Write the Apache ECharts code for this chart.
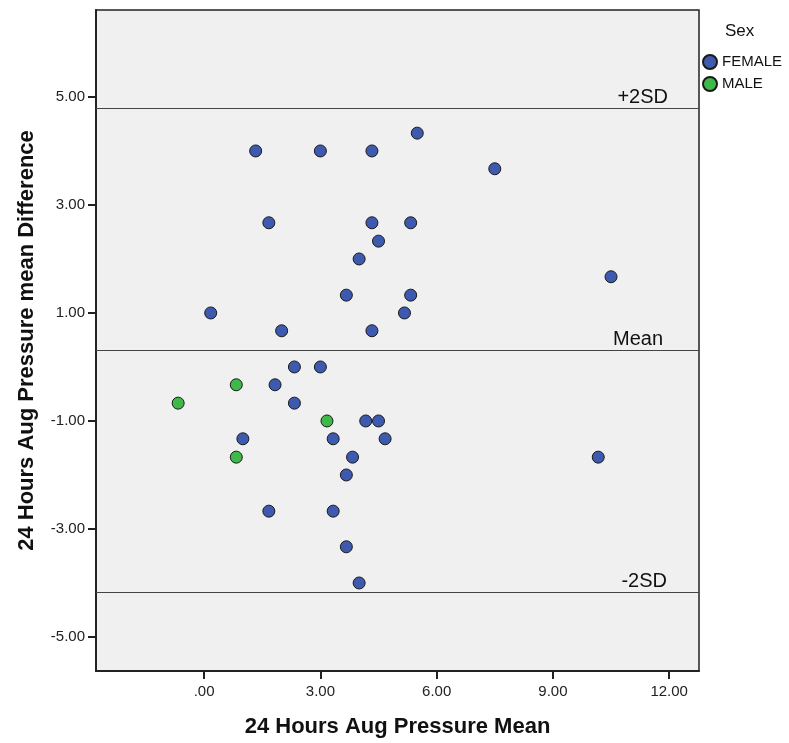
<!DOCTYPE html>
<html>
<head>
<meta charset="utf-8">
<script src="https://cdn.jsdelivr.net/npm/echarts@6/dist/echarts.min.js"></script>
<style>
  html, body { margin: 0; padding: 0; background: #fff; }
  #chart { width: 789px; height: 743px; }
</style>
</head>
<body>
<div id="chart"></div>
<script>
// average of the two readings (x) and their difference (y), per sex
const femaleMean = [1.33, 3.00, 4.33, 5.50, 7.50, 1.67, 4.33, 5.33, 4.50, 4.00, 10.50, 3.67, 5.33, 0.17, 5.17, 2.00, 4.33,
    2.33, 3.00, 1.83, 2.33, 4.17, 4.50, 1.00, 3.33, 4.67, 3.83, 10.17, 3.67, 1.67, 3.33, 3.67, 4.00]
const femaleDiff = [4.00, 4.00, 4.00, 4.33, 3.67, 2.67, 2.67, 2.67, 2.33, 2.00, 1.67, 1.33, 1.33, 1.00, 1.00, 0.67, 0.67,
    0.00, 0.00, -0.33, -0.67, -1.00, -1.00, -1.33, -1.33, -1.33, -1.67, -1.67, -2.00, -2.67, -2.67, -3.33, -4.00]
const maleMean = [0.83, -0.67, 3.17, 0.83]
const maleDiff = [-0.33, -0.67, -1.00, -1.67]

const refNames = ['+2SD', 'Mean', '-2SD']
const refValues = [4.79, 0.31, -4.17]

const xTicks = [0, 3, 6, 9, 12]
const xTickLabels = ['.00', '3.00', '6.00', '9.00', '12.00']
const yTicks = [-5, -3, -1, 1, 3, 5]
const yTickLabels = ['-5.00', '-3.00', '-1.00', '1.00', '3.00', '5.00']

const font = '"Liberation Sans", Arial, sans-serif'
const pair = (xs, ys) => xs.map((x, i) => [x, ys[i]])
const labelRight = [31, 36, 32]

const axisCommon = {
    axisLine: { show: true, onZero: false, lineStyle: { color: '#222', width: 2 } },
    axisTick: { show: true, length: 8, lineStyle: { color: '#222', width: 2 } },
    splitLine: { show: false },
    nameTextStyle: { fontFamily: font, fontSize: 22, fontWeight: 'bold', color: '#111' }
}

const chart = echarts.init(document.getElementById('chart'), null, { renderer: 'canvas' })
chart.setOption({
    animation: false,
    backgroundColor: '#fff',
    textStyle: { fontFamily: font },
    title: {
        text: 'Sex',
        left: 725,
        top: 23,
        padding: 0,
        textStyle: { fontFamily: font, fontSize: 17, fontWeight: 'normal', color: '#111' }
    },
    legend: {
        orient: 'vertical',
        left: 702,
        top: 54,
        padding: 0,
        itemGap: 6,
        itemWidth: 14,
        itemHeight: 14,
        icon: 'circle',
        textStyle: { fontFamily: font, fontSize: 15, color: '#111' },
        data: ['FEMALE', 'MALE']
    },
    grid: {
        left: 96,
        top: 10,
        right: 90,
        bottom: 72,
        show: true,
        backgroundColor: '#f0f0f0',
        borderColor: '#222',
        borderWidth: 1.5
    },
    xAxis: Object.assign({}, axisCommon, {
        type: 'value',
        min: -2.79,
        max: 12.77,
        name: '24 Hours Aug Pressure Mean',
        nameLocation: 'middle',
        nameGap: 45,
        axisTick: Object.assign({}, axisCommon.axisTick, { customValues: xTicks }),
        axisLabel: {
            customValues: xTicks,
            margin: 13,
            fontSize: 15,
            color: '#222',
            formatter: v => xTickLabels[xTicks.indexOf(v)]
        }
    }),
    yAxis: Object.assign({}, axisCommon, {
        type: 'value',
        min: -5.63,
        max: 6.61,
        name: '24 Hours Aug Pressure mean Difference',
        nameLocation: 'middle',
        nameGap: 58,
        axisTick: Object.assign({}, axisCommon.axisTick, { customValues: yTicks }),
        axisLabel: {
            customValues: yTicks,
            margin: 11,
            fontSize: 15,
            color: '#222',
            formatter: v => yTickLabels[yTicks.indexOf(v)]
        }
    }),
    series: [
        {
            name: 'FEMALE',
            type: 'scatter',
            symbolSize: 12,
            itemStyle: { color: '#3d5aae', borderColor: '#1a1a1a', borderWidth: 1, opacity: 1 },
            data: pair(femaleMean, femaleDiff),
            markLine: {
                silent: true,
                symbol: 'none',
                lineStyle: { color: '#444', width: 1.2, type: 'solid' },
                label: {
                    position: 'insideEndTop',
                    fontFamily: font,
                    fontSize: 20,
                    color: '#111'
                },
                data: refValues.map((v, i) => ({
                    yAxis: v,
                    label: { formatter: refNames[i], distance: [labelRight[i], 1] }
                }))
            }
        },
        {
            name: 'MALE',
            type: 'scatter',
            symbolSize: 12,
            itemStyle: { color: '#3db849', borderColor: '#1a1a1a', borderWidth: 1, opacity: 1 },
            data: pair(maleMean, maleDiff)
        }
    ]
})
</script>
</body>
</html>
